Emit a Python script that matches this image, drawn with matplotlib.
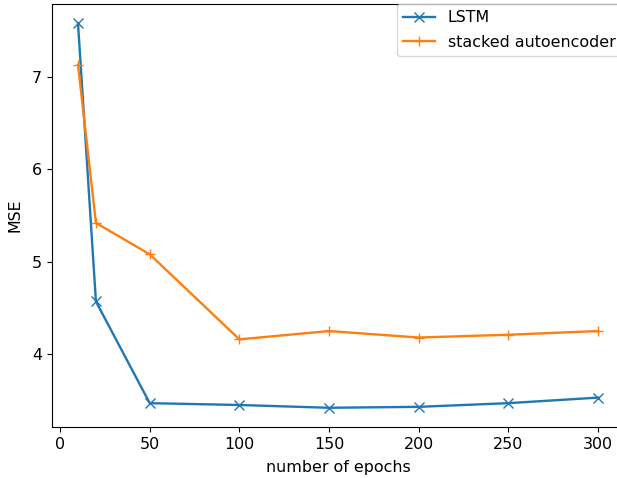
import matplotlib
matplotlib.use("Agg")
import matplotlib.pyplot as plt

epochs = [10, 20, 50, 100, 150, 200, 250, 300]
lstm = [7.58, 4.57, 3.47, 3.45, 3.42, 3.43, 3.47, 3.53]
stacked = [7.13, 5.42, 5.08, 4.16, 4.25, 4.18, 4.21, 4.25]

plt.rcParams["font.size"] = 11.4

W, H = 617, 478
fig = plt.figure(figsize=(W / 100, H / 100), dpi=100)
ax = fig.add_axes([52 / W, (H - 427) / H, (624 - 52) / W, (427 - 4) / H])
ax.plot(epochs, lstm, marker="x", markersize=7.5, linewidth=1.7, label="LSTM")
ax.plot(epochs, stacked, marker="+", markersize=7.5, linewidth=1.7, label="stacked autoencoder")
ax.set_xlabel("number of epochs", labelpad=6)
ax.set_ylabel("MSE", labelpad=7)
ax.set_xticks([0, 50, 100, 150, 200, 250, 300])
ax.set_yticks([4, 5, 6, 7])
ax.legend(loc="upper left", bbox_to_anchor=(397 / W, (H - 4) / H),
          bbox_transform=fig.transFigure, borderaxespad=0, labelspacing=0.6)
fig.savefig("out.png", dpi=100)
